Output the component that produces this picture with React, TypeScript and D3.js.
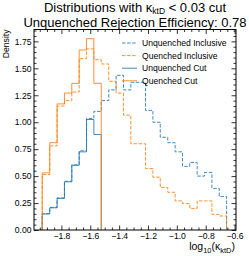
import { useEffect, useRef } from 'react';
import * as d3 from 'd3';

// log10(kappa_ktD) bin edges, 25 bins
const binEdges = [
  -1.933, -1.881, -1.830, -1.779, -1.728, -1.677, -1.626, -1.575, -1.524,
  -1.472, -1.421, -1.370, -1.319, -1.268, -1.217, -1.166, -1.115, -1.063,
  -1.012, -0.961, -0.910, -0.859, -0.808, -0.757, -0.706, -0.655,
];

const unquenchedInclusive = [
  0.152, 0.21, 0.298, 0.452, 0.605, 0.735, 1.035, 1.1, 1.2, 1.3, 1.435, 1.3,
  1.37, 1.37, 1.11, 1.0, 0.86, 0.81, 0.725, 0.59, 0.627, 0.5, 0.534, 0.386, 0.31,
];
const quenchedInclusive = [
  0.515, 0.78, 1.15, 1.2, 1.28, 1.59, 1.68, 1.58, 1.54, 1.38, 1.27, 1.065, 0.8,
  0.8, 0.57, 0.49, 0.395, 0.35, 0.27, 0.245, 0.2, 0.27, 0.27, 0.145, 0.13,
];
// only the bins below the cut (kappa < 0.03)
const unquenchedCut = [0.148, 0.206, 0.293, 0.447, 0.6, 0.725, 1.025, 0.886];
const quenchedCut = [0.53, 0.81, 1.17, 1.27, 1.36, 1.67, 1.775, 1.36];

const xTicks = [-1.8, -1.6, -1.4, -1.2, -1.0, -0.8, -0.6];
const yTicks = [0, 0.25, 0.5, 0.75, 1.0, 1.25, 1.5, 1.75];

const series = [
  { label: 'Unquenched Inclusive', values: unquenchedInclusive, color: '#1f77b4', dash: '3.5,1.6' },
  { label: 'Quenched Inclusive', values: quenchedInclusive, color: '#ff7f0e', dash: '3.5,1.6' },
  { label: 'Unquenched Cut', values: unquenchedCut, color: '#1f77b4', dash: null },
  { label: 'Quenched Cut', values: quenchedCut, color: '#ff7f0e', dash: null },
];

const FONT = '"Liberation Sans", Arial, Helvetica, sans-serif';

const App = () => {
  const ref = useRef(null);

  useEffect(() => {
    document.body.style.margin = '0';
    const svg = d3.select(ref.current);
    svg.selectAll('*').remove();

    const left = 34;
    const right = 236;
    const top = 29.5;
    const bottom = 230;

    const x = d3.scaleLinear().domain([-1.99, -0.59]).range([left, right]);
    const y = d3.scaleLinear().domain([0, 1.86]).range([bottom, top]);

    svg.append('rect').attr('width', 249).attr('height', 256).attr('fill', '#fff');

    // histograms as steps
    const line = d3
      .line()
      .x((d) => x(d[0]))
      .y((d) => y(d[1]));

    const stepPoints = (values) => {
      const pts = [[binEdges[0], 0]];
      values.forEach((v, i) => {
        pts.push([binEdges[i], v]);
        pts.push([binEdges[i + 1], v]);
      });
      pts.push([binEdges[values.length], 0]);
      return pts;
    };

    series.forEach((s) => {
      svg
        .append('path')
        .attr('d', line(stepPoints(s.values)))
        .attr('fill', 'none')
        .attr('stroke', s.color)
        .attr('stroke-width', 1)
        .attr('stroke-opacity', 0.85)
        .attr('stroke-dasharray', s.dash);
    });

    // ticks, inward on all sides
    const minorX = d3.range(-1.95, -0.58, 0.05).filter((v) => !xTicks.some((t) => Math.abs(t - v) < 1e-6));
    const minorY = d3.range(0.05, 1.86, 0.05).filter((v) => !yTicks.some((t) => Math.abs(t - v) < 1e-6));

    const styleAxis = (g) => {
      g.select('.domain').remove();
      g.selectAll('line').attr('stroke', '#000').attr('stroke-width', 0.8);
      g.selectAll('text').attr('font-family', FONT).attr('font-size', 8.6).attr('fill', '#000');
    };

    svg
      .append('g')
      .attr('transform', `translate(0,${bottom})`)
      .call(d3.axisBottom(x).tickValues(xTicks).tickSize(-4.5).tickPadding(2.5).tickFormat(d3.format('.1f')))
      .call(styleAxis);
    svg
      .append('g')
      .attr('transform', `translate(0,${bottom})`)
      .call(d3.axisBottom(x).tickValues(minorX).tickSize(-2.5).tickFormat(() => ''))
      .call(styleAxis);
    svg
      .append('g')
      .attr('transform', `translate(0,${top})`)
      .call(d3.axisTop(x).tickValues(xTicks).tickSize(-4.5).tickFormat(() => ''))
      .call(styleAxis);
    svg
      .append('g')
      .attr('transform', `translate(0,${top})`)
      .call(d3.axisTop(x).tickValues(minorX).tickSize(-2.5).tickFormat(() => ''))
      .call(styleAxis);

    svg
      .append('g')
      .attr('transform', `translate(${left},0)`)
      .call(d3.axisLeft(y).tickValues(yTicks).tickSize(-4.5).tickPadding(2.5).tickFormat(d3.format('.2f')))
      .call(styleAxis);
    svg
      .append('g')
      .attr('transform', `translate(${left},0)`)
      .call(d3.axisLeft(y).tickValues(minorY).tickSize(-2.5).tickFormat(() => ''))
      .call(styleAxis);
    svg
      .append('g')
      .attr('transform', `translate(${right},0)`)
      .call(d3.axisRight(y).tickValues(yTicks).tickSize(-4.5).tickFormat(() => ''))
      .call(styleAxis);
    svg
      .append('g')
      .attr('transform', `translate(${right},0)`)
      .call(d3.axisRight(y).tickValues(minorY).tickSize(-2.5).tickFormat(() => ''))
      .call(styleAxis);

    // frame
    svg
      .append('rect')
      .attr('x', left)
      .attr('y', top)
      .attr('width', right - left)
      .attr('height', bottom - top)
      .attr('fill', 'none')
      .attr('stroke', '#000')
      .attr('stroke-width', 1);

    // title
    const t1 = svg
      .append('text')
      .attr('x', (left + right) / 2)
      .attr('y', 12)
      .attr('text-anchor', 'middle')
      .attr('font-family', FONT)
      .attr('font-size', 13);
    t1.append('tspan').text('Distributions with κ');
    t1.append('tspan').attr('font-size', 8.5).attr('dy', 2).text('ktD');
    t1.append('tspan').attr('dy', -2).text(' < 0.03 cut');

    svg
      .append('text')
      .attr('x', (left + right) / 2)
      .attr('y', 27)
      .attr('text-anchor', 'middle')
      .attr('font-family', FONT)
      .attr('font-size', 13)
      .text('Unquenched Rejection Efficiency: 0.78');

    // axis labels
    const xl = svg
      .append('text')
      .attr('x', right - 1)
      .attr('y', 250)
      .attr('text-anchor', 'end')
      .attr('font-family', FONT)
      .attr('font-size', 10.5);
    xl.append('tspan').text('log');
    xl.append('tspan').attr('font-size', 7.5).attr('dy', 2.5).text('10');
    xl.append('tspan').attr('dy', -2.5).text('(κ');
    xl.append('tspan').attr('font-size', 7.5).attr('dy', 2.5).text('ktD');
    xl.append('tspan').attr('dy', -2.5).text(')');

    svg
      .append('text')
      .attr('transform', `translate(9,${top}) rotate(-90)`)
      .attr('text-anchor', 'end')
      .attr('font-family', FONT)
      .attr('font-size', 8.6)
      .text('Density');

    // legend
    const legend = svg.append('g');
    series.forEach((s, i) => {
      const cy = 43 + i * 12.6;
      legend
        .append('line')
        .attr('x1', 122)
        .attr('x2', 137)
        .attr('y1', cy)
        .attr('y2', cy)
        .attr('stroke', s.color)
        .attr('stroke-width', 1)
        .attr('stroke-opacity', 0.85)
        .attr('stroke-dasharray', s.dash);
      legend
        .append('text')
        .attr('x', 142)
        .attr('y', cy + 3)
        .attr('font-family', FONT)
        .attr('font-size', 8.6)
        .text(s.label);
    });
  }, []);

  return <svg ref={ref} width={249} height={256} style={{ display: 'block' }}></svg>;
};

export default App;
